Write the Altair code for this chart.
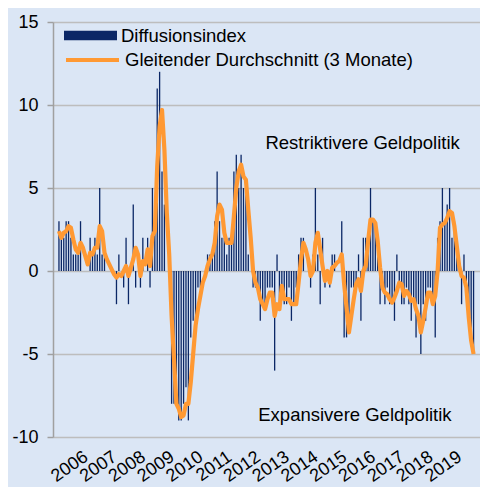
import altair as alt
import pandas as pd

# Diffusion index, monthly values Jan 2005 .. Jun 2019
diff_2005 = [3, 2, 2, 3, 3, 2, 1, 1, 1, 3, 0, 0]
diff_2006 = [0, 2, 1, 2, 1, 5, 1, 1, 0, 0, 0, 0]
diff_2007 = [-2, 1, 0, -1, 2, -2, 0, 4, -1, 0, -1, 2]
diff_2008 = [0, 2, -1, 5, 3, 11, 12, 6, 4, 0, 0, -8]
diff_2009 = [-8, -8, -9, -9, -8, -7, -9, -4, -3, -3, -1, -1]
diff_2010 = [0, 0, 1, 1, 1, 3, 6, 3, 2, 2, 1, 2]
diff_2011 = [2, 6, 7, 5, 7, 5, 5, 1, 0, -1, -1, -1]
diff_2012 = [-3, -2, -2, -1, -1, -1, -6, 1, -2, -1, -2, -2]
diff_2013 = [-1, -3, -2, -1, 1, 2, 2, 0, 0, -1, 1, 5]
diff_2014 = [1, -2, 2, -1, 0, -1, 1, 1, 0, 0, 3, -4]
diff_2015 = [-4, -3, -1, -1, -1, 1, -3, 2, 2, 2, 5, 3]
diff_2016 = [3, 1, -2, -1, -2, -1, -2, -2, -3, 1, -1, -2]
diff_2017 = [-2, -1, -2, -3, -2, -4, -2, -5, -2, -3, -1, -1]
diff_2018 = [-2, -4, 2, 3, 5, 3, 4, 5, 2, 3, 1, 0]
diff_2019 = [-2, 1, -1, -3, -4, -5]

# Moving average (3 months)
ma_2005 = [2.4, 2.0, 2.3, 2.4, 2.7, 2.6, 1.9, 1.3, 1.1, 1.7, 1.4, 0.9]
ma_2006 = [0.4, 1.1, 1.0, 1.4, 1.4, 2.7, 2.4, 1.1, 0.7, 0.4, 0.1, -0.2]
ma_2007 = [-0.4, -0.2, -0.3, 0.0, 0.3, -0.3, 0.2, 0.7, 1.4, 1.0, -0.3, 0.6]
ma_2008 = [0.4, 1.3, 0.3, 2.1, 2.4, 6.3, 8.7, 9.7, 7.3, 3.5, 1.0, -2.7]
ma_2009 = [-5.3, -8.0, -8.3, -8.8, -8.7, -8.0, -8.0, -6.7, -5.0, -3.3, -2.3, -1.5]
ma_2010 = [-0.7, -0.3, 0.3, 0.7, 1.0, 1.7, 3.3, 4.0, 3.7, 2.3, 1.7, 1.7]
ma_2011 = [1.7, 3.3, 5.0, 6.0, 6.4, 5.7, 5.5, 3.7, 2.0, 0.0, -0.7, -1.0]
ma_2012 = [-1.7, -2.0, -2.3, -1.7, -1.3, -1.3, -2.7, -2.0, -2.3, -0.9, -1.7, -1.7]
ma_2013 = [-1.7, -2.0, -2.0, -2.0, -0.7, 0.7, 1.7, 1.3, 0.7, -0.3, 0.0, 1.7]
ma_2014 = [2.3, 1.3, 0.3, -0.6, 0.0, -0.7, 0.2, 0.3, 0.5, 0.6, 1.0, -0.8]
ma_2015 = [-2.2, -3.7, -2.7, -1.7, -0.8, -0.5, -1.2, 0.0, 0.3, 1.8, 3.1, 3.1]
ma_2016 = [2.9, 1.8, 0.2, -1.0, -1.3, -1.4, -1.7, -1.9, -1.6, -1.2, -0.7, -0.8]
ma_2017 = [-1.5, -1.2, -1.4, -1.8, -1.7, -2.3, -2.7, -3.7, -3.0, -2.2, -1.3, -1.3]
ma_2018 = [-2.0, -1.5, 0.0, 2.6, 2.8, 2.9, 3.2, 3.6, 3.5, 2.7, 1.5, 0.3]
ma_2019 = [-0.3, -0.4, -1.0, -2.8, -4.2, -5.0]

diffusion = (diff_2005 + diff_2006 + diff_2007 + diff_2008 + diff_2009 + diff_2010
             + diff_2011 + diff_2012 + diff_2013 + diff_2014 + diff_2015 + diff_2016
             + diff_2017 + diff_2018 + diff_2019)
moving_avg = (ma_2005 + ma_2006 + ma_2007 + ma_2008 + ma_2009 + ma_2010
              + ma_2011 + ma_2012 + ma_2013 + ma_2014 + ma_2015 + ma_2016
              + ma_2017 + ma_2018 + ma_2019)
month_index = list(range(len(diffusion)))

year_ticks = [12, 24, 36, 48, 60, 72, 84, 96, 108, 120, 132, 144, 156, 168]
y_ticks = [-10, -5, 0, 5, 10, 15]

series_bar = "Diffusionsindex"
series_line = "Gleitender Durchschnitt (3 Monate)"

note_texts = ["Restriktivere Geldpolitik", "Expansivere Geldpolitik"]
note_x = [126.7, 123.5]
note_y = [7.7, -8.7]

df = pd.DataFrame({
    "m": month_index,
    "diff": diffusion,
    "ma": moving_avg,
    "s1": series_bar,
    "s2": series_line,
})
notes = pd.DataFrame({"m": note_x, "v": note_y, "t": note_texts})

FONT = "Liberation Sans"
BG = "#DBE6F5"
NAVY = "#0B2766"
ORANGE = "#FF9933"

x_scale = alt.Scale(domain=[-0.4, 173.6], nice=False, zero=False)
y_scale = alt.Scale(domain=[-10, 15], nice=False)

x_axis = alt.Axis(
    values=year_ticks,
    labelExpr="'' + (2005 + datum.value / 12)",
    labelAngle=-35,
    labelAlign="right",
    labelBaseline="middle",
    labelOverlap=False,
    labelFlush=False,
    labelBound=False,
    grid=False,
    domain=False,
    ticks=False,
    labelPadding=18,
    labelOffset=-2,
    labelFontSize=18,
    labelFont=FONT,
    labelColor="black",
    title=None,
)
y_axis = alt.Axis(
    values=y_ticks,
    labelExpr="'' + datum.value",
    grid=True,
    gridColor="#BDBDBD",
    gridWidth=1.5,
    domainColor="#A0A0A0",
    domainWidth=1.5,
    tickColor="#A0A0A0",
    tickWidth=1.5,
    tickSize=6,
    labelFontSize=18,
    labelFont=FONT,
    labelColor="black",
    labelPadding=9,
    title=None,
)

bars = alt.Chart(df).mark_bar(size=1.3).encode(
    x=alt.X("m:Q", scale=x_scale, axis=x_axis),
    y=alt.Y("diff:Q", scale=y_scale, axis=y_axis),
    fill=alt.Fill(
        "s1:N",
        scale=alt.Scale(domain=[series_bar], range=[NAVY]),
        legend=alt.Legend(
            title=None, orient="none", legendX=11, legendY=-13,
            symbolType="M-1,-0.18L1,-0.18L1,0.18L-1,0.18Z", symbolSize=2809,
            symbolStrokeWidth=0, labelFontSize=18.5, labelFont=FONT,
            labelColor="black", labelOffset=4, padding=0, labelLimit=0,
        ),
    ),
)

line = alt.Chart(df).mark_line(strokeWidth=4.2, strokeJoin="round").encode(
    x=alt.X("m:Q", scale=x_scale, axis=x_axis),
    y=alt.Y("ma:Q", scale=y_scale, axis=y_axis),
    stroke=alt.Stroke(
        "s2:N",
        scale=alt.Scale(domain=[series_line], range=[ORANGE]),
        legend=alt.Legend(
            title=None, orient="none", legendX=11, legendY=9.5,
            symbolType="M-1,0L1,0", symbolSize=2809, symbolStrokeWidth=4,
            labelFontSize=18.5, labelFont=FONT, labelColor="black",
            labelOffset=4, padding=0, labelLimit=0,
        ),
    ),
)

text = alt.Chart(notes).mark_text(fontSize=18.5, font=FONT, color="black").encode(
    x=alt.X("m:Q", scale=x_scale, axis=x_axis),
    y=alt.Y("v:Q", scale=y_scale, axis=y_axis),
    text="t:N",
)

chart = alt.layer(bars, line, text).properties(
    width=427,
    height=415,
    background=BG,
    padding={"left": 45, "top": 14, "right": 0, "bottom": 50},
    autosize="none",
).configure_view(stroke=None)

chart.save("out.html", embed_options={"renderer": "svg", "actions": False})
